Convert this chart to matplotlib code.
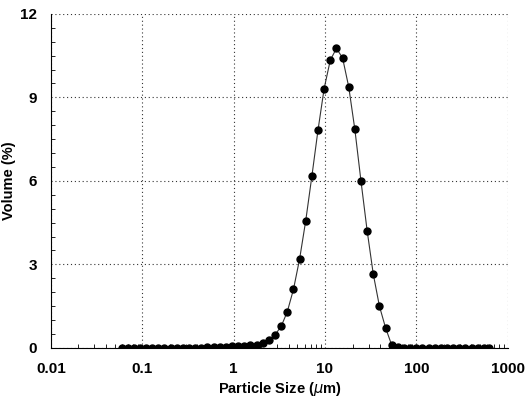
import numpy as np
import matplotlib.pyplot as plt
from matplotlib.ticker import FixedLocator, MultipleLocator, LogLocator, NullFormatter

plt.rcParams['font.family'] = ['Liberation Sans', 'DejaVu Sans']

# particle size channels (um) and volume fraction (%)
size_um = [0.0593, 0.0692, 0.0808, 0.0943, 0.110, 0.128, 0.150, 0.175, 0.204, 0.239,
           0.279, 0.325, 0.380, 0.443, 0.517, 0.604, 0.705, 0.823, 0.961, 1.122,
           1.309, 1.528, 1.784, 2.083, 2.432, 2.838, 3.313, 3.868, 4.516, 5.272,
           6.155, 7.185, 8.388, 9.79, 11.43, 13.34, 15.57, 18.18, 21.22, 24.77,
           28.92, 33.76, 39.41, 46.01, 53.71, 62.70, 73.2, 85.4, 99.7, 116.4,
           135.9, 158.6, 185.2, 216.2, 252.4, 294.6, 343.9, 401.5, 468.7, 547.2,
           620.0]
volume_pct = [0.01, 0.01, 0.01, 0.01, 0.01, 0.01, 0.01, 0.01, 0.01, 0.01,
              0.01, 0.01, 0.01, 0.01, 0.02, 0.02, 0.03, 0.04, 0.05, 0.06,
              0.08, 0.10, 0.12, 0.18, 0.27, 0.47, 0.77, 1.30, 2.10, 3.19,
              4.57, 6.17, 7.83, 9.32, 10.34, 10.76, 10.42, 9.38, 7.85, 5.99,
              4.21, 2.65, 1.50, 0.72, 0.10, 0.02, 0.01, 0.01, 0.01, 0.01,
              0.01, 0.01, 0.01, 0.01, 0.01, 0.01, 0.01, 0.01, 0.01, 0.01,
              0.01]

x_ticks = [0.01, 0.1, 1, 10, 100, 1000]
x_ticklabels = ['0.01', '0.1', '1', '10', '100', '1000']
y_ticks = [0, 3, 6, 9, 12]

fig = plt.figure(figsize=(5.3, 3.98), dpi=100)
ax = fig.add_axes([0.096, 0.126, 0.862, 0.839])

ax.plot(size_um, volume_pct, '-', color='#333333', linewidth=0.8,
        marker='o', markersize=5, markerfacecolor='black', markeredgecolor='black')

ax.set_xscale('log')
ax.set_xlim(0.01, 1000)
ax.set_ylim(0, 12)
ax.xaxis.set_major_locator(FixedLocator(x_ticks))
ax.set_xticklabels(x_ticklabels)
ax.xaxis.set_minor_locator(LogLocator(base=10, subs=np.arange(2, 10)))
ax.xaxis.set_minor_formatter(NullFormatter())
ax.yaxis.set_major_locator(FixedLocator(y_ticks))
ax.yaxis.set_minor_locator(MultipleLocator(0.5))

ax.grid(True, which='major', linestyle=(0, (1, 2.5)), color='#333333', linewidth=0.8)
ax.tick_params(which='both', direction='in', top=False, right=False)
ax.tick_params(which='major', length=0, labelsize=11)
ax.tick_params(axis='x', which='major', pad=10)
ax.tick_params(axis='y', which='major', pad=10)
ax.tick_params(which='minor', length=3, width=0.6)
for lbl in ax.get_xticklabels() + ax.get_yticklabels():
    lbl.set_fontweight('bold')

ax.spines['top'].set_visible(False)
ax.spines['right'].set_visible(False)
ax.spines['left'].set_linewidth(0.8)
ax.spines['bottom'].set_linewidth(0.8)

ax.set_xlabel('Particle Size ($\\mu$m)', fontsize=10.5, fontweight='bold', labelpad=3)
ax.set_ylabel('Volume (%)', fontsize=10.5, fontweight='bold', labelpad=3)

fig.savefig('out.png', dpi=100)
